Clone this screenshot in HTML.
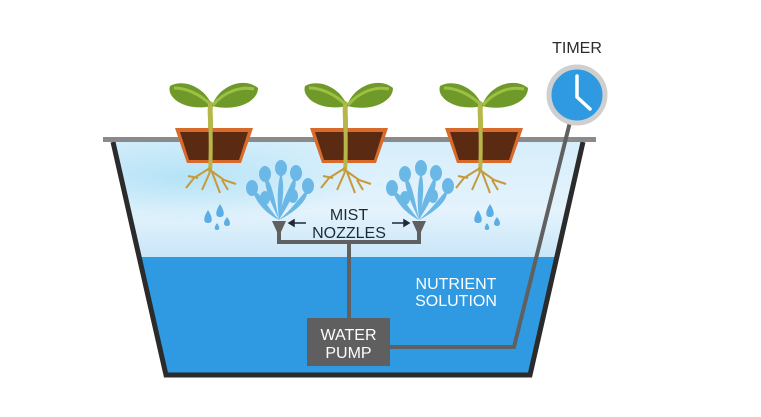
<!DOCTYPE html>
<html><head><style>
html,body{margin:0;padding:0;background:#fff;}
svg{display:block;}
text{font-family:"Liberation Sans",sans-serif;}
</style></head><body>
<svg width="761" height="417" viewBox="0 0 761 417" xmlns="http://www.w3.org/2000/svg">
<defs>
<linearGradient id="air" x1="0" y1="0" x2="0" y2="1">
<stop offset="0" stop-color="#d6eefb"/><stop offset="0.6" stop-color="#e4f3fc"/><stop offset="1" stop-color="#c9e6f8"/>
</linearGradient>
<radialGradient id="glow" cx="0.15" cy="0.3" r="0.4">
<stop offset="0" stop-color="#b5e3f7"/><stop offset="1" stop-color="#b5e3f7" stop-opacity="0"/>
</radialGradient>
<g id="plant">
<path d="M-4,-2 C-2,-20 -6,-30 -2,-36" stroke="#a9c04a" stroke-width="5" fill="none"/>
<path d="M-2,-32 C-8,-50 -30,-60 -44,-52 C-48,-40 -28,-26 -2,-32Z" fill="#6f9a2a"/>
<path d="M-2,-32 C4,-52 30,-62 44,-50 C44,-36 22,-26 -2,-32Z" fill="#6f9a2a"/>
<path d="M-3,-33 C-14,-44 -28,-50 -40,-50" stroke="#9cc043" stroke-width="3" fill="none"/>
<path d="M-1,-33 C10,-46 26,-52 40,-49" stroke="#9cc043" stroke-width="3" fill="none"/>
<path d="M-39,-10 L39,-10 L37,-4 L27,25 L-27,25 L-37,-4Z" fill="#d86b2c"/>
<path d="M-34,-6 L34,-6 L25,22 L-25,22Z" fill="#5b2a12"/>
<path d="M-4,-34 C-3,0 -3,20 -4,34" stroke="#b8b54a" stroke-width="4" fill="none"/>
<g stroke="#c69a3a" stroke-width="2" fill="none">
<path d="M-4,30 L-20,40 L-28,50"/><path d="M-4,32 L10,42 L22,46"/><path d="M-4,34 L-12,52"/><path d="M-2,34 L6,55"/><path d="M-16,40 L-26,38"/><path d="M8,42 L14,52"/>
</g>
</g>
<g id="drops" fill="#5aaee3">
<path d="M0,0 C-5,8 -5,13 0,13 C5,13 5,8 0,0Z"/>
<path d="M12,-6 C7,2 7,7 12,7 C17,7 17,2 12,-6Z"/>
<path d="M19,7 C15,12 15,16 19,16 C23,16 23,12 19,7Z"/>
<path d="M9,13 C6,17 6,20 9,20 C12,20 12,17 9,13Z"/>
</g>
<g id="spray" fill="#6bb8e6">
<path d="M0,0 C-12,-6 -22,-16 -26,-28 C-20,-30 -14,-16 0,0Z"/>
<path d="M0,0 C-6,-14 -14,-28 -14,-42 C-8,-42 -4,-20 0,0Z"/>
<path d="M0,0 C-2,-18 -2,-34 2,-48 C6,-34 4,-18 0,0Z"/>
<path d="M0,0 C2,-18 10,-32 16,-44 C20,-30 8,-14 0,0Z"/>
<path d="M0,0 C12,-10 20,-22 28,-30 C30,-20 16,-8 0,0Z"/>
<ellipse cx="-27" cy="-32" rx="6" ry="8"/><ellipse cx="-14" cy="-46" rx="6" ry="8"/><ellipse cx="2" cy="-52" rx="6" ry="8"/><ellipse cx="17" cy="-47" rx="6" ry="8"/><ellipse cx="29" cy="-34" rx="6" ry="8"/>
<ellipse cx="-14" cy="-22" rx="5" ry="7"/><ellipse cx="14" cy="-24" rx="5" ry="7"/>
</g>
</defs>
<path d="M112,142 L583,142 L555,257 L140,257Z" fill="url(#air)"/>
<path d="M112,142 L583,142 L555,257 L140,257Z" fill="url(#glow)"/>
<path d="M140,257 L555,257 L530,375 L166,375Z" fill="#2f9ae2"/>
<path d="M113,142 L166,375 L530,375 L583,142" fill="none" stroke="#2b2b2b" stroke-width="5"/>
<line x1="103" y1="139.5" x2="596" y2="139.5" stroke="#8a8a8a" stroke-width="5"/>
<use href="#plant" x="214" y="138"/>
<use href="#plant" x="349" y="138"/>
<use href="#plant" x="484" y="138"/>
<use href="#drops" x="208" y="210"/>
<use href="#drops" x="478" y="210"/>
<use href="#spray" x="279" y="220"/>
<use href="#spray" x="419" y="220"/>
<g stroke="#606060" stroke-width="4" fill="none">
<path d="M279,224 L279,242 L419,242 L419,224"/>
<path d="M349,242 L349,320"/>
<path d="M390,347 L514,347 L570,122"/>
</g>
<path d="M272,221 L286,221 L281,232 L277,232Z" fill="#606060"/>
<path d="M412,221 L426,221 L421,232 L417,232Z" fill="#606060"/>
<g stroke="#1e2a38" stroke-width="1.5" fill="#1e2a38">
<line x1="292" y1="223" x2="306" y2="223"/><path d="M289,223 L294,220 L294,226Z"/>
<line x1="392" y1="223" x2="406" y2="223"/><path d="M409,223 L404,220 L404,226Z"/>
</g>
<rect x="307" y="318" width="83" height="48" fill="#5f5f5f"/>
<text x="348.5" y="340" fill="#fff" font-size="16" text-anchor="middle">WATER</text>
<text x="348.5" y="358" fill="#fff" font-size="16" text-anchor="middle">PUMP</text>
<text x="349" y="220" fill="#1e2a38" font-size="16" text-anchor="middle">MIST</text>
<text x="349" y="238" fill="#1e2a38" font-size="16" text-anchor="middle">NOZZLES</text>
<text x="456" y="289" fill="#fff" font-size="16" text-anchor="middle">NUTRIENT</text>
<text x="456" y="306" fill="#fff" font-size="16" text-anchor="middle">SOLUTION</text>
<text x="577" y="53" fill="#2b2b2b" font-size="16" text-anchor="middle">TIMER</text>
<circle cx="577" cy="95" r="28" fill="#2f9ae2" stroke="#cfcfcf" stroke-width="5"/>
<path d="M577,76 L577,97 L590,109" stroke="#fff" stroke-width="3.5" fill="none" stroke-linecap="round"/>
</svg>
</body></html>
